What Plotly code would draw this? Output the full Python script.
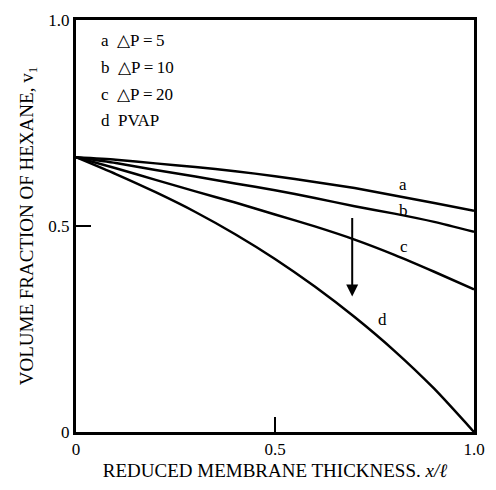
import plotly.graph_objects as go

# Read-off values (x = reduced membrane thickness, y = volume fraction)
x_vals = [0, 0.1, 0.2, 0.3, 0.4, 0.5, 0.6, 0.7, 0.8, 0.9, 1.0]
y_a = [0.667, 0.661, 0.652, 0.643, 0.633, 0.621, 0.607, 0.592, 0.574, 0.556, 0.537]
y_b = [0.667, 0.653, 0.636, 0.620, 0.603, 0.587, 0.568, 0.548, 0.530, 0.510, 0.486]
y_c = [0.667, 0.640, 0.612, 0.584, 0.557, 0.528, 0.499, 0.467, 0.430, 0.389, 0.346]
y_d = [0.667, 0.626, 0.582, 0.534, 0.480, 0.420, 0.353, 0.279, 0.197, 0.105, 0.0]

curve_labels = ["a", "b", "c", "d"]
label_x = [0.821, 0.823, 0.823, 0.770]
label_y = [0.600, 0.538, 0.450, 0.273]
legend_lines = ["a  △P\u2009=\u20095", "b  △P\u2009=\u200910", "c  △P\u2009=\u200920", "d  PVAP"]

arrow_x = 0.694
arrow_y0 = 0.523
arrow_y1 = 0.329

tick_vals = [0, 0.5, 1.0]
x_tick_text = ["0", "0.5", "1.0"]
y_tick_text = ["0", "0.5", "1.0"]

FONT = "Liberation Serif"

fig = go.Figure()
for ys in [y_a, y_b, y_c, y_d]:
    fig.add_trace(go.Scatter(x=x_vals, y=ys, mode="lines",
                             line=dict(color="black", width=2.5, shape="spline", smoothing=0.6),
                             showlegend=False, hoverinfo="skip"))

for t, lx, ly in zip(curve_labels, label_x, label_y):
    fig.add_annotation(x=lx, y=ly, text=t, showarrow=False,
                       font=dict(family=FONT, size=17, color="black"),
                       xref="x", yref="y")

for i, t in enumerate(legend_lines):
    fig.add_annotation(x=0.058, y=0.950 - i * 0.065, text=t, showarrow=False,
                       xanchor="left", yanchor="middle",
                       font=dict(family=FONT, size=17, color="black"),
                       xref="x", yref="y")

fig.add_annotation(x=arrow_x, y=arrow_y1, ax=arrow_x, ay=arrow_y0,
                   xref="x", yref="y", axref="x", ayref="y",
                   showarrow=True, arrowhead=2, arrowsize=1.2, arrowwidth=2,
                   arrowcolor="black", text="")

fig.update_layout(
    width=496, height=490,
    margin=dict(l=76, r=11, t=19, b=51),
    paper_bgcolor="white", plot_bgcolor="white",
    font=dict(family=FONT, size=17, color="black"),
    showlegend=False,
)
fig.update_xaxes(range=[0, 1], tickvals=tick_vals, ticktext=x_tick_text,
                 ticks="inside", ticklen=15, tickwidth=2, tickcolor="black",
                 showgrid=False, zeroline=False,
                 showline=True, linecolor="black", linewidth=3, mirror=True,
                 tickfont=dict(family=FONT, size=17),
                 title=dict(text="REDUCED MEMBRANE THICKNESS. <i>x/ℓ</i>",
                            font=dict(family=FONT, size=19), standoff=6))
fig.update_yaxes(range=[0, 1], tickvals=tick_vals, ticktext=y_tick_text,
                 ticks="inside", ticklen=15, tickwidth=2, tickcolor="black",
                 showgrid=False, zeroline=False,
                 showline=True, linecolor="black", linewidth=3, mirror=True,
                 tickfont=dict(family=FONT, size=17),
                 title=dict(text="VOLUME FRACTION OF HEXANE, v<sub>1</sub>",
                            font=dict(family=FONT, size=19), standoff=10))

fig.write_html("out.html")
